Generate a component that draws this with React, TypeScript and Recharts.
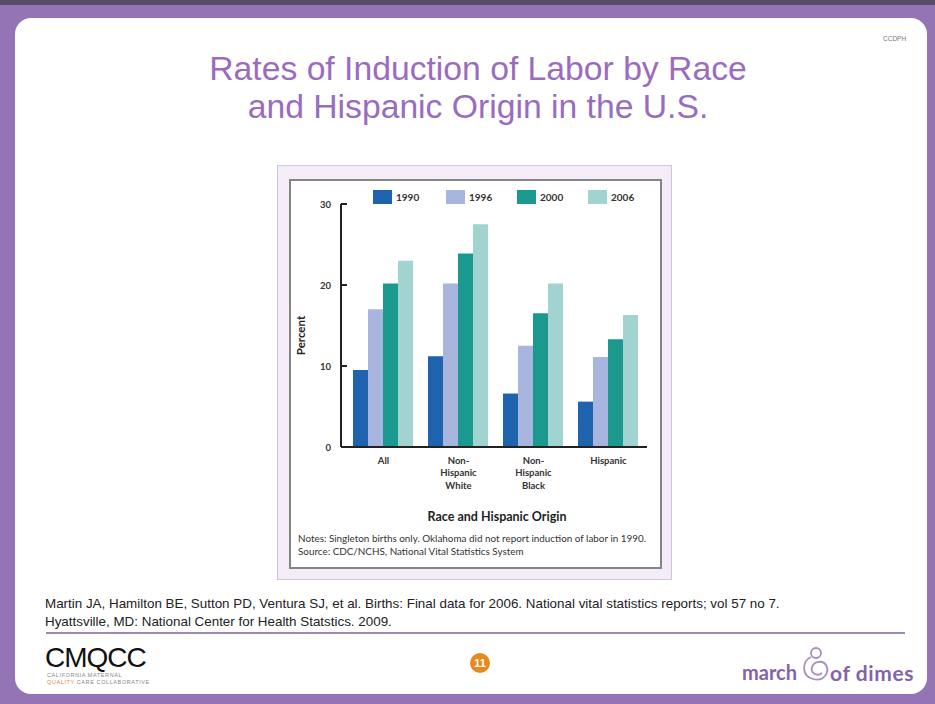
import React from "react";
import { BarChart, Bar, XAxis, YAxis } from "recharts";

// Rates of induction of labor, percent of singleton births
const categories = ["All", "Non-Hispanic White", "Non-Hispanic Black", "Hispanic"];
const categoryLines = [["All"], ["Non-", "Hispanic", "White"], ["Non-", "Hispanic", "Black"], ["Hispanic"]];
const years = ["1990", "1996", "2000", "2006"];
const rates1990 = [9.5, 11.2, 6.6, 5.6];
const rates1996 = [17.0, 20.2, 12.5, 11.1];
const rates2000 = [20.2, 23.9, 16.5, 13.3];
const rates2006 = [23.0, 27.5, 20.2, 16.3];
const yTicks = [0, 10, 20, 30];
const colors = ["#1f62ad", "#a8b6df", "#1b998f", "#a1d4d0"];

const seriesValues = [rates1990, rates1996, rates2000, rates2006];
const data = categories.map((category, i) => {
  const row: Record<string, string | number> = { category };
  years.forEach((y, s) => (row["y" + y] = seriesValues[s][i]));
  return row;
});

const chartFont = "Lato, 'Open Sans', sans-serif";
const slideFont = "'Liberation Sans', Arial, sans-serif";
const purple = "#9474b4";

function CategoryTick({ x, y, payload }: any) {
  const lines = categoryLines[categories.indexOf(payload.value)] || [payload.value];
  return (
    <text x={x} y={y} textAnchor="middle" fontFamily={chartFont} fontWeight={700} fontSize={9.5} fill="#333">
      {lines.map((line, i) => (
        <tspan key={i} x={x} dy={i === 0 ? 16.5 : 12.5}>
          {line}
        </tspan>
      ))}
    </text>
  );
}

function PercentTick({ x, y, payload }: any) {
  return (
    <g>
      <line x1={x + 8} x2={x + 14} y1={y} y2={y} stroke="#222" strokeWidth={2} />
      <text x={x - 2} y={y + 3.5} textAnchor="end" fontFamily={chartFont} fontWeight={700} fontSize={9.5} fill="#333">
        {payload.value}
      </text>
    </g>
  );
}

function PercentLabel({ viewBox }: any) {
  const cx = viewBox.x + 16;
  const cy = viewBox.y + viewBox.height / 2 + 10;
  return (
    <text x={cx} y={cy} transform={`rotate(-90, ${cx}, ${cy})`} textAnchor="middle" fontFamily={chartFont} fontWeight={700} fontSize={11.5} fill="#222">
      Percent
    </text>
  );
}

function OriginLabel({ viewBox }: any) {
  const cx = viewBox.x + viewBox.width / 2 + 3;
  return (
    <text x={cx} y={viewBox.y + 74} textAnchor="middle" fontFamily={chartFont} fontWeight={700} fontSize={12.5} fill="#222">
      Race and Hispanic Origin
    </text>
  );
}

const legendX = [373, 446, 517, 588];

export default function App() {
  return (
    <div style={{ position: "absolute", left: 0, top: 0, width: 935, height: 704, background: purple, overflow: "hidden" }}>
      <div style={{ position: "absolute", left: 0, top: 0, width: 935, height: 5, background: "#5a4b69" }} />
      <div style={{ position: "absolute", left: 15, top: 18, width: 912, height: 676, background: "#fff", borderRadius: 16 }} />

      <div style={{ position: "absolute", left: 883, top: 35, fontFamily: slideFont, fontSize: 6.5, color: "#777" }}>CCDPH</div>

      <div style={{ position: "absolute", left: 178, top: 49, width: 600, textAlign: "center", fontFamily: slideFont, fontSize: 33.7, lineHeight: "38px", color: "#9a6cbf" }}>
        Rates of Induction of Labor by Race
        <br />
        and Hispanic Origin in the U.S.
      </div>

      {/* chart frame */}
      <div style={{ position: "absolute", left: 277, top: 165, width: 395, height: 415, background: "#f4ecf7", border: "1px solid #d3c2e2", boxSizing: "border-box" }} />
      <div style={{ position: "absolute", left: 289, top: 179, width: 373, height: 390, background: "#fff", border: "2px solid #858585", boxSizing: "border-box" }} />

      <div style={{ position: "absolute", left: 289, top: 179 }}>
        <BarChart width={373} height={390} data={data} margin={{ top: 25, right: 15, left: 0, bottom: 72 }} barCategoryGap={7} barGap={0}>
          <XAxis
            dataKey="category"
            height={50}
            padding={{ left: 5, right: 1 }}
            axisLine={{ stroke: "#222", strokeWidth: 2 }}
            tickLine={false}
            tickSize={0}
            tickMargin={0}
            tick={<CategoryTick />}
            interval={0}
            label={{ content: <OriginLabel /> }}
          />
          <YAxis
            width={52}
            domain={[0, 30]}
            ticks={yTicks}
            axisLine={{ stroke: "#222", strokeWidth: 2 }}
            tickLine={false}
            tickSize={0}
            tickMargin={8}
            tick={<PercentTick />}
            label={{ content: <PercentLabel /> }}
          />
          {years.map((y, s) => (
            <Bar key={y} dataKey={"y" + y} name={y} fill={colors[s]} isAnimationActive={false} />
          ))}
        </BarChart>
      </div>

      {/* legend */}
      {years.map((y, s) => (
        <div key={y} style={{ position: "absolute", left: legendX[s], top: 190, display: "flex", alignItems: "center" }}>
          <div style={{ width: 19, height: 14, background: colors[s] }} />
          <span style={{ marginLeft: 4, fontFamily: chartFont, fontWeight: 700, fontSize: 10, color: "#333" }}>{y}</span>
        </div>
      ))}

      <div style={{ position: "absolute", left: 298, top: 532, fontFamily: chartFont, fontSize: 9.9, lineHeight: "13px", color: "#333", whiteSpace: "nowrap" }}>
        Notes: Singleton births only. Oklahoma did not report induction of labor in 1990.
        <br />
        Source: CDC/NCHS, National Vital Statistics System
      </div>

      {/* citation */}
      <div style={{ position: "absolute", left: 45, top: 595, fontFamily: slideFont, fontSize: 13.4, lineHeight: "18px", color: "#222", whiteSpace: "nowrap" }}>
        Martin JA, Hamilton BE, Sutton PD, Ventura SJ, et al. Births: Final data for 2006. National vital statistics reports; vol 57 no 7.
        <br />
        Hyattsville, MD: National Center for Health Statstics. 2009.
      </div>
      <div style={{ position: "absolute", left: 46, top: 632, width: 859, height: 2, background: "#9c88b2" }} />

      {/* CMQCC */}
      <div style={{ position: "absolute", left: 45, top: 646, fontFamily: slideFont, fontSize: 28, lineHeight: "24px", letterSpacing: -1, color: "#111" }}>CMQCC</div>
      <div style={{ position: "absolute", left: 47, top: 672, fontFamily: slideFont, fontSize: 5.5, letterSpacing: 0.6, color: "#888", lineHeight: "7px" }}>
        CALIFORNIA MATERNAL
        <br />
        <span style={{ color: "#e8862a" }}>QUALITY</span> CARE COLLABORATIVE
      </div>

      {/* slide number */}
      <div style={{ position: "absolute", left: 470, top: 653, width: 20, height: 20, borderRadius: 10, background: "#e8891e", color: "#fff", fontFamily: slideFont, fontWeight: 700, fontSize: 11, lineHeight: "20px", textAlign: "center" }}>11</div>

      {/* march of dimes */}
      <div style={{ position: "absolute", left: 742, top: 660, fontFamily: chartFont, fontWeight: 700, fontSize: 20, color: "#8463a7" }}>march</div>
      <svg style={{ position: "absolute", left: 799, top: 645 }} width={32} height={38}>
        <circle cx={17} cy={8} r={5} fill="none" stroke="#a78dc3" strokeWidth={1.8} />
        <path d="M12 12 C3 16 2 31 14 34 C25 37 31 27 27 20 C24 15 15 16 13 22 C11 28 18 32 23 28" fill="none" stroke="#a78dc3" strokeWidth={1.8} />
      </svg>
      <div style={{ position: "absolute", left: 830, top: 660, fontFamily: chartFont, fontWeight: 700, fontSize: 21, letterSpacing: 0.6, color: "#8463a7" }}>of dimes</div>
    </div>
  );
}
